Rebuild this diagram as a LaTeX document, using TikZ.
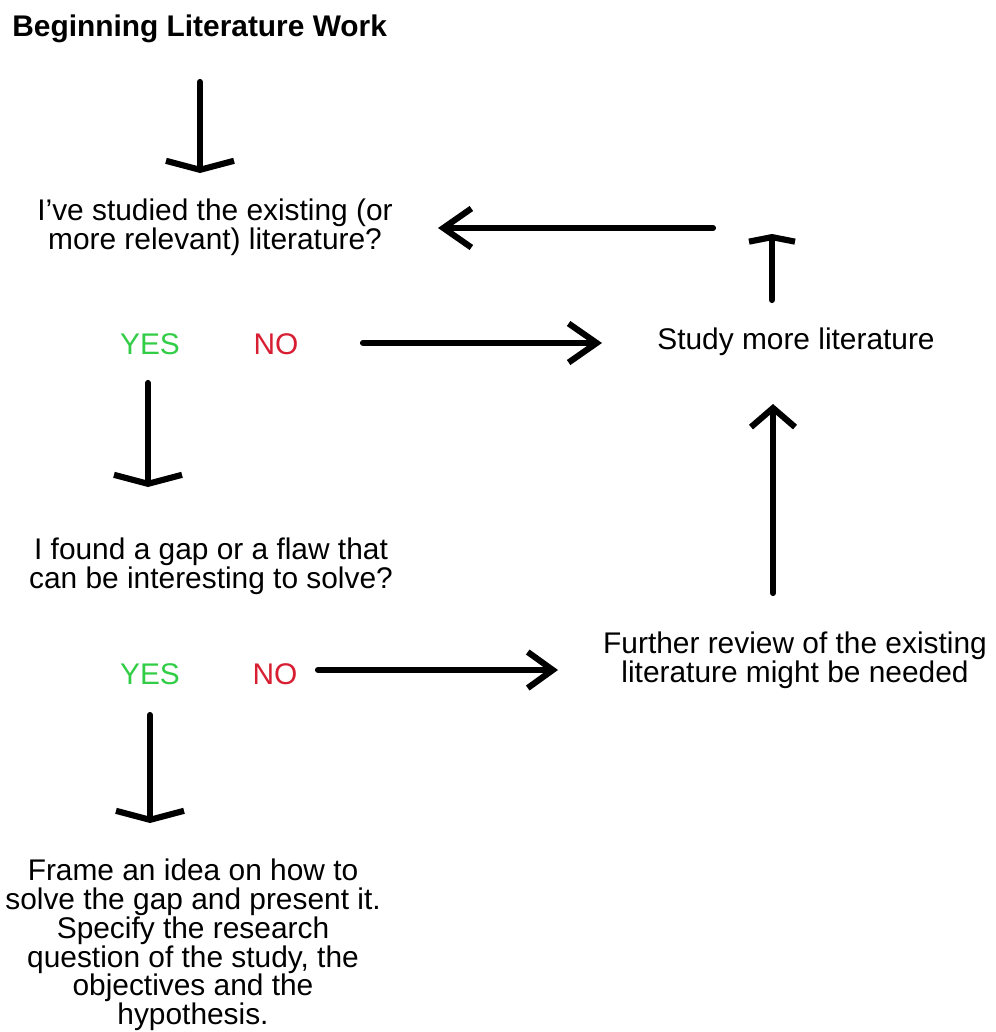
\documentclass[tikz,border=0pt]{standalone}
\usepackage{fontspec}
\setmainfont{Liberation Sans}
\usetikzlibrary{arrows.meta}
\definecolor{yesgreen}{RGB}{50,205,70}
\definecolor{nored}{RGB}{215,30,50}

\begin{document}
\begin{tikzpicture}[x=0.2mm,y=-0.2mm,
  txt/.style={font=\fontsize{17}{16.4}\selectfont,align=center,inner sep=0pt},
  flow/.style={line width=3.5pt,line cap=round},
  downarr/.style={flow,-{Straight Barb[length=1.8mm,width=13.6mm]}},
  sidearr/.style={flow,-{Straight Barb[length=5.6mm,width=7.8mm]}}]
\useasboundingbox (0,0) rectangle (995,1032);
% texts
\node[txt,font=\fontsize{17}{16.4}\selectfont\bfseries,anchor=west] (start) at (12,29) {Beginning Literature Work};
\node[txt] (q1) at (215,227) {I've studied the existing (or\\more relevant) literature?};
\node[txt,yesgreen] (yes1) at (150,344) {YES};
\node[txt,nored] (no1) at (276,344) {NO};
\node[txt] (study) at (796,342) {Study more literature};
\node[txt] (q2) at (211,566) {I found a gap or a flaw that\\can be interesting to solve?};
\node[txt,yesgreen] (yes2) at (150,674) {YES};
\node[txt,nored] (no2) at (275,674) {NO};
\node[txt] (review) at (795,660) {Further review of the existing\\literature might be needed};
\node[txt] (frame) at (193,945) {Frame an idea on how to\\solve the gap and present it.\\Specify the research\\question of the study, the\\objectives and the\\hypothesis.};
% arrow ends
\coordinate (a1s) at (200,82);  \coordinate (a1e) at (200,173);
\coordinate (a2s) at (713,228); \coordinate (a2e) at (438,228);
\coordinate (a3s) at (772,300); \coordinate (a3e) at (772,234);
\coordinate (a4s) at (363,343); \coordinate (a4e) at (602,343);
\coordinate (a5s) at (148,383); \coordinate (a5e) at (148,487);
\coordinate (a6s) at (773,593); \coordinate (a6e) at (773,404);
\coordinate (a7s) at (318,670); \coordinate (a7e) at (558,670);
\coordinate (a8s) at (150,715); \coordinate (a8e) at (150,823);
% arrows
\draw[downarr] (a1s) -- (a1e);
\draw[sidearr] (a2s) -- (a2e);
\draw[flow,-{Straight Barb[length=0.9mm,width=9.2mm]}] (a3s) -- (a3e);
\draw[sidearr] (a4s) -- (a4e);
\draw[downarr] (a5s) -- (a5e);
\draw[flow,-{Straight Barb[length=3.8mm,width=8.8mm]}] (a6s) -- (a6e);
\draw[flow,-{Straight Barb[length=5mm,width=7.2mm]}] (a7s) -- (a7e);
\draw[downarr] (a8s) -- (a8e);
\end{tikzpicture}
\end{document}
